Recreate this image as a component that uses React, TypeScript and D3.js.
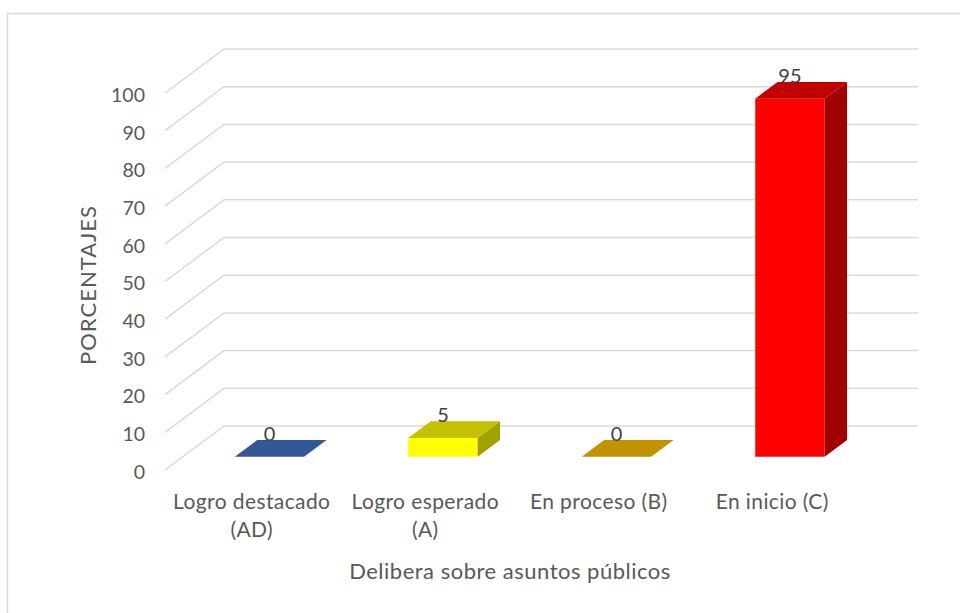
import React from 'react';
import * as d3 from 'd3';

const categories = ['Logro destacado (AD)', 'Logro esperado (A)', 'En proceso (B)', 'En inicio (C)'];
const values = [0, 5, 0, 95];
const barColors = ['#4472C4', '#FFFF00', '#FFC000', '#FF0000'];
const yTicks = [0, 10, 20, 30, 40, 50, 60, 70, 80, 90, 100];

const xTitle = 'Delibera sobre asuntos públicos';
const yTitle = 'PORCENTAJES';

const W = 960;
const H = 613;
const FONT = 'Lato, "Open Sans", sans-serif';
const TEXT = '#595959';
const GRID = '#d9d9d9';

// back wall of the 3d box
const back = { left: 224, right: 918, bottom: 426, top: 49 };
// depth vector, back wall -> front edge
const depth = { dx: -59, dy: 44 };
// bar sits between these depth fractions
const barBack = 0.32;
const barFront = 0.7;

function shade(c: string, k: number) {
  const col = d3.rgb(c);
  return d3.rgb(col.r * k, col.g * k, col.b * k).formatHex();
}

function wrap(label: string) {
  if (label.length <= 14) return [label];
  const i = label.lastIndexOf(' ');
  return [label.slice(0, i), label.slice(i + 1)];
}

export default function App() {
  const x = d3.scaleBand<string>()
    .domain(categories)
    .range([back.left, back.right])
    .paddingInner(0.6)
    .paddingOuter(0.3);

  const y = d3.scaleLinear().domain([0, 100]).range([back.bottom, back.top]);

  const pt = (px: number, py: number) => `${px},${py}`;

  const bars = categories.map((c, i) => {
    const v = values[i];
    const fx = depth.dx * barFront, fy = depth.dy * barFront;
    const bx = depth.dx * barBack, by = depth.dy * barBack;
    const x0 = x(c)! + fx;
    const x1 = x0 + x.bandwidth();
    const yb = y(0) + fy;
    const yt = y(v) + fy;
    const ox = bx - fx, oy = by - fy; // front -> back offset
    const front = [pt(x0, yb), pt(x1, yb), pt(x1, yt), pt(x0, yt)].join(' ');
    const top = [pt(x0, yt), pt(x1, yt), pt(x1 + ox, yt + oy), pt(x0 + ox, yt + oy)].join(' ');
    const side = [pt(x1, yb), pt(x1 + ox, yb + oy), pt(x1 + ox, yt + oy), pt(x1, yt)].join(' ');
    return {
      c, v, front, top, side,
      hasHeight: yb - yt > 0.5,
      labelX: (x0 + x1) / 2,
      labelY: yt + oy + 1,
      color: barColors[i],
    };
  });

  return (
    <svg width={W} height={H} style={{ position: 'absolute', left: 0, top: 0, background: '#fff' }}>
      <rect x={7.5} y={13.5} width={W + 20} height={H + 20} fill="#fff" stroke={GRID} strokeWidth={1.5} />

      {/* gridlines: left wall diagonal + back wall */}
      {yTicks.map(t => (
        <polyline
          key={t}
          points={[
            pt(back.left + depth.dx, y(t) + depth.dy),
            pt(back.left, y(t)),
            pt(back.right, y(t)),
          ].join(' ')}
          fill="none"
          stroke={GRID}
          strokeWidth={1.5}
        />
      ))}

      {/* y tick labels */}
      {yTicks.map(t => (
        <text
          key={t}
          x={145}
          y={y(t) + depth.dy + 2}
          dy="0.35em"
          textAnchor="end"
          fontFamily={FONT}
          fontSize={19.5}
          fill={TEXT}
        >
          {t}
        </text>
      ))}

      {/* bars */}
      {bars.map(b => (
        <g key={b.c}>
          {b.hasHeight && <polygon points={b.front} fill={b.color} />}
          {b.hasHeight && <polygon points={b.side} fill={shade(b.color, 0.63)} />}
          <polygon points={b.top} fill={shade(b.color, 0.76)} />
          <text
            x={b.labelX}
            y={b.labelY}
            textAnchor="middle"
            fontFamily={FONT}
            fontSize={20}
            fill="#404040"
          >
            {b.v}
          </text>
        </g>
      ))}

      {/* category labels */}
      {categories.map(c => {
        const cx = x(c)! + x.bandwidth() / 2 + depth.dx;
        return (
          <text key={c} textAnchor="middle" fontFamily={FONT} fontSize={21} letterSpacing={0.4} fill={TEXT}>
            {wrap(c).map((line, j) => (
              <tspan key={j} x={cx} y={509 + j * 28}>{line}</tspan>
            ))}
          </text>
        );
      })}

      <text x={510} y={579} textAnchor="middle" fontFamily={FONT} fontSize={22} letterSpacing={0.5} fill={TEXT}>
        {xTitle}
      </text>
      <text
        transform={`translate(96,285) rotate(-90)`}
        textAnchor="middle"
        fontFamily={FONT}
        fontSize={22}
        letterSpacing={1}
        fill={TEXT}
      >
        {yTitle}
      </text>
    </svg>
  );
}
